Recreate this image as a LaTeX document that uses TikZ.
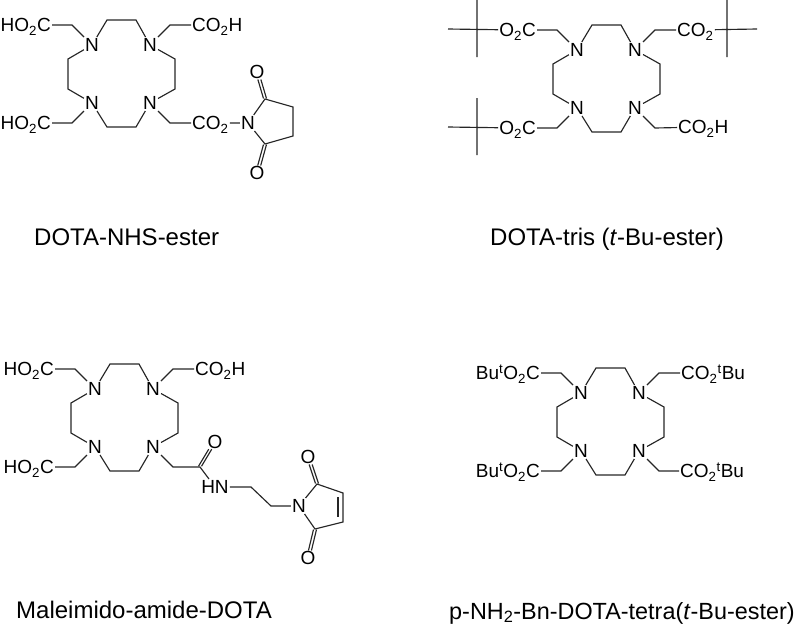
\documentclass[tikz,border=0pt]{standalone}
\usepackage{fontspec}
\setmainfont{Liberation Sans}
\newcommand{\lsub}[1]{\textsubscript{#1}}
\newcommand{\lsup}[1]{\textsuperscript{#1}}
% macrocycle: prefix, x and y of the north-west nitrogen
\newcommand{\macrocycle}[3]{%
  \begin{scope}[shift={(#2,#3)}]
    \node[atom] (#1nw) at (0,0) {N};
    \node[atom] (#1ne) at (58,0) {N};
    \node[atom] (#1sw) at (0,58) {N};
    \node[atom] (#1se) at (58,58) {N};
    \coordinate (#1t1) at (15,-25);
    \coordinate (#1t2) at (44,-25);
    \coordinate (#1r1) at (83,14);
    \coordinate (#1r2) at (83,44);
    \coordinate (#1b1) at (44,82);
    \coordinate (#1b2) at (15,82);
    \coordinate (#1l1) at (-24,44);
    \coordinate (#1l2) at (-24,14);
    \coordinate (#1anw) at (-20,-20);
    \coordinate (#1ane) at (78,-20);
    \coordinate (#1asw) at (-20,78);
    \coordinate (#1ase) at (78,78);
    \node[atom,anchor=east] (#1lnw) at (-40,-20) {\csname #1NW\endcsname};
    \node[atom,anchor=west] (#1lne) at (99,-20) {\csname #1NE\endcsname};
    \node[atom,anchor=east] (#1lsw) at (-40,78) {\csname #1SW\endcsname};
  \end{scope}
  \draw[bond] (#1nw) -- (#1t1) -- (#1t2) -- (#1ne) -- (#1r1) -- (#1r2) -- (#1se);
  \draw[bond] (#1se) -- (#1b1) -- (#1b2) -- (#1sw) -- (#1l1) -- (#1l2) -- (#1nw);
  \draw[bond] (#1nw) -- (#1anw) -- (#1lnw);
  \draw[bond] (#1ne) -- (#1ane) -- (#1lne);
  \draw[bond] (#1sw) -- (#1asw) -- (#1lsw);
}
\newcommand{\dbl}[3]{% double bond between two named points, offset
  \draw[bond,transform canvas={shift={(#3)}}] (#1) -- (#2);
  \draw[bond,transform canvas={shift={(-#3)}}] (#1) -- (#2);
}
\tikzset{
  atom/.style={font=\fontsize{19}{19}\selectfont,inner sep=1pt,text height=13.6pt,text depth=0pt},
  bond/.style={line width=1.15pt,draw=black!85,line join=miter},
  caption/.style={font=\fontsize{24}{24}\selectfont,inner sep=0pt,anchor=base west}
}
\newcommand{\AxNW}{HO\lsub{2}C}
\newcommand{\AxNE}{CO\lsub{2}H}
\newcommand{\AxSW}{HO\lsub{2}C}
\newcommand{\BxNW}{O\lsub{2}C}
\newcommand{\BxNE}{CO\lsub{2}}
\newcommand{\BxSW}{O\lsub{2}C}
\newcommand{\CxNW}{HO\lsub{2}C}
\newcommand{\CxNE}{CO\lsub{2}H}
\newcommand{\CxSW}{HO\lsub{2}C}
\newcommand{\DxNW}{Bu\lsup{t}O\lsub{2}C}
\newcommand{\DxNE}{CO\lsub{2}\lsup{t}Bu}
\newcommand{\DxSW}{Bu\lsup{t}O\lsub{2}C}
\begin{document}
\begin{tikzpicture}[x=1pt,y=-1pt]
\useasboundingbox (0,0) rectangle (800,625);
% --- A: DOTA-NHS-ester
\macrocycle{Ax}{92}{45}
\node[atom,anchor=west] (Alse) at (191,123) {CO\lsub{2}};
\draw[bond] (Axse) -- (Axase) -- (Alse);
\node[atom] (AN) at (248,123) {N};
\node[atom] (AO1) at (257,72) {O};
\node[atom] (AO2) at (257,173) {O};
\coordinate (AC1) at (265,99);
\coordinate (AC2) at (293,107);
\coordinate (AC3) at (293,136);
\coordinate (AC4) at (265,144);
\draw[bond] (Alse) -- (AN) -- (AC1) -- (AC2) -- (AC3) -- (AC4) -- (AN);
\dbl{AO1}{AC1}{1.5pt,0.5pt}
\dbl{AO2}{AC4}{1.5pt,-0.5pt}
% --- B: DOTA-tris
\macrocycle{Bx}{577}{50}
\node[atom,anchor=west] (Blse) at (677,127) {CO\lsub{2}H};
\draw[bond] (Bxse) -- (Bxase) -- (Blse);
\coordinate (Bc1a) at (448,29);
\coordinate (Bc1t) at (477,0);
\coordinate (Bc1b) at (477,57);
\coordinate (Bc2a) at (757,29);
\coordinate (Bc2t) at (727,0);
\coordinate (Bc2b) at (727,57);
\coordinate (Bc3a) at (448,127);
\coordinate (Bc3t) at (477,98);
\coordinate (Bc3b) at (477,155);
\draw[bond] (Bxlnw) -- (Bc1a) (Bc1t) -- (Bc1b);
\draw[bond] (Bxlne) -- (Bc2a) (Bc2t) -- (Bc2b);
\draw[bond] (Bxlsw) -- (Bc3a) (Bc3t) -- (Bc3b);
% --- C: Maleimido-amide-DOTA
\macrocycle{Cx}{95}{389}
\coordinate (CA) at (173,467);
\coordinate (CC) at (200,467);
\node[atom] (CO) at (215,442) {O};
\node[atom] (CH) at (215,487) {HN};
\coordinate (CE1) at (251,487);
\coordinate (CE2) at (271,506);
\node[atom] (CN) at (299,506) {N};
\node[atom] (CO1) at (308,457) {O};
\node[atom] (CO2) at (308,558) {O};
\coordinate (CR1) at (317,484);
\coordinate (CR2) at (343,493);
\coordinate (CR3) at (343,522);
\coordinate (CR4) at (315,529);
\coordinate (CI1) at (338,497);
\coordinate (CI2) at (338,517);
\draw[bond] (Cxse) -- (CA) -- (CC) -- (CH);
\dbl{CC}{CO}{1.5pt,0.8pt}
\draw[bond] (CH) -- (CE1) -- (CE2) -- (CN) -- (CR1) -- (CR2) -- (CR3) -- (CR4) -- (CN);
\draw[bond] (CI1) -- (CI2);
\dbl{CO1}{CR1}{1.5pt,0.5pt}
\dbl{CO2}{CR4}{1.5pt,-0.5pt}
% --- D: tetra ester
\macrocycle{Dx}{581}{393}
\node[atom,anchor=west] (Dlse) at (679,471) {CO\lsub{2}\lsup{t}Bu};
\draw[bond] (Dxse) -- (Dxase) -- (Dlse);
% --- captions
\node[caption] (capA) at (34,245) {DOTA-NHS-ester};
\node[caption] (capB) at (490,245) {DOTA-tris (\textit{t}-Bu-ester)};
\node[caption] (capC) at (16,618) {Maleimido-amide-DOTA};
\node[caption,font=\fontsize{23.4}{24}\selectfont] (capD) at (449,619) {p-NH\lsub{2}-Bn-DOTA-tetra(\textit{t}-Bu-ester)};
\end{tikzpicture}
\end{document}
